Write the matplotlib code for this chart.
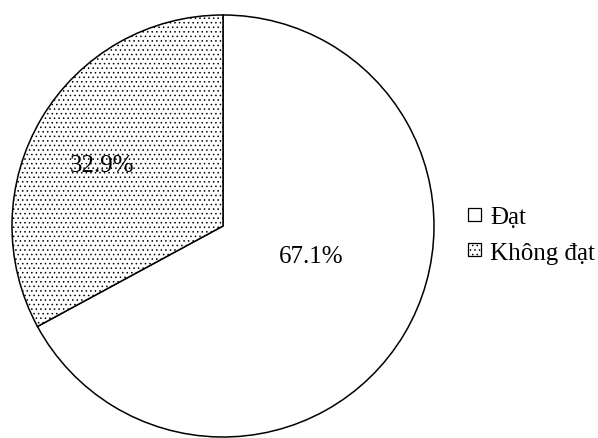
import matplotlib
matplotlib.use("Agg")
import numpy as np
import matplotlib.pyplot as plt
import matplotlib.hatch as mhatch
from matplotlib.path import Path
from matplotlib.patches import Patch

labels = ["Đạt", "Không đạt"]
values = [67.1, 32.9]
pct_labels = ["67.1%", "32.9%"]


class SparseDots(mhatch.HatchPatternBase):
    """Staggered fine dot texture used for the '.' hatch."""
    def __init__(self, hatch, density):
        on = hatch.count('.') > 0
        ncol, nrow = 22, 22
        pos = []
        if on:
            for r in range(nrow + 1):
                y = r / nrow
                if r % 2 == 0:
                    xs = np.arange(ncol + 1) / ncol
                else:
                    xs = (np.arange(ncol) + 0.5) / ncol
                pos += [(x, y) for x in xs]
        circ = Path.unit_circle()
        self.sv = circ.vertices
        self.sc = circ.codes
        self.pos = pos
        self.num_vertices = len(pos) * len(self.sv)

    def set_vertices_and_codes(self, vertices, codes):
        nv = len(self.sv)
        rad = 0.0048
        c = 0
        for (x, y) in self.pos:
            vertices[c:c + nv] = self.sv * rad + (x, y)
            codes[c:c + nv] = self.sc
            c += nv


mhatch._hatch_types = [t for t in mhatch._hatch_types
                       if t is not mhatch.SmallFilledCircles] + [SparseDots]

plt.rcParams['font.family'] = ['Liberation Serif', 'DejaVu Serif']
plt.rcParams['hatch.linewidth'] = 0.5

fig = plt.figure(figsize=(5.98, 4.39), dpi=100)
W, H = 598, 439
cx, cy, r = 223, 227, 211
ax = fig.add_axes([(cx - r) / W, (H - cy - r) / H, 2 * r / W, 2 * r / H])
wedges, _ = ax.pie(values, startangle=90, counterclock=False,
                   colors=["white", "white"],
                   wedgeprops=dict(edgecolor="black", linewidth=1.1),
                   radius=1)
wedges[1].set_hatch(".")
for w in wedges:
    w.set_clip_on(False)
ax.set_xlim(-1, 1)
ax.set_ylim(-1, 1)
ax.set_aspect("equal")
ax.axis("off")

ax.text(88 / r, -36 / r, pct_labels[0], ha="center", va="baseline", fontsize=18)
ax.text(-121 / r, 55 / r, pct_labels[1], ha="center", va="baseline", fontsize=18)

handles = [Patch(facecolor="white", edgecolor="black", linewidth=0.9, label=labels[0]),
           Patch(facecolor="white", edgecolor="black", linewidth=0.9, hatch=".", label=labels[1])]
fig.legend(handles=handles, loc="center left", bbox_to_anchor=(468 / W, (H - 236) / H),
           frameon=False, fontsize=18, handlelength=0.5, handleheight=0.42,
           handletextpad=0.38, labelspacing=0.55, borderpad=0, borderaxespad=0)

fig.savefig("out.png", dpi=100)
